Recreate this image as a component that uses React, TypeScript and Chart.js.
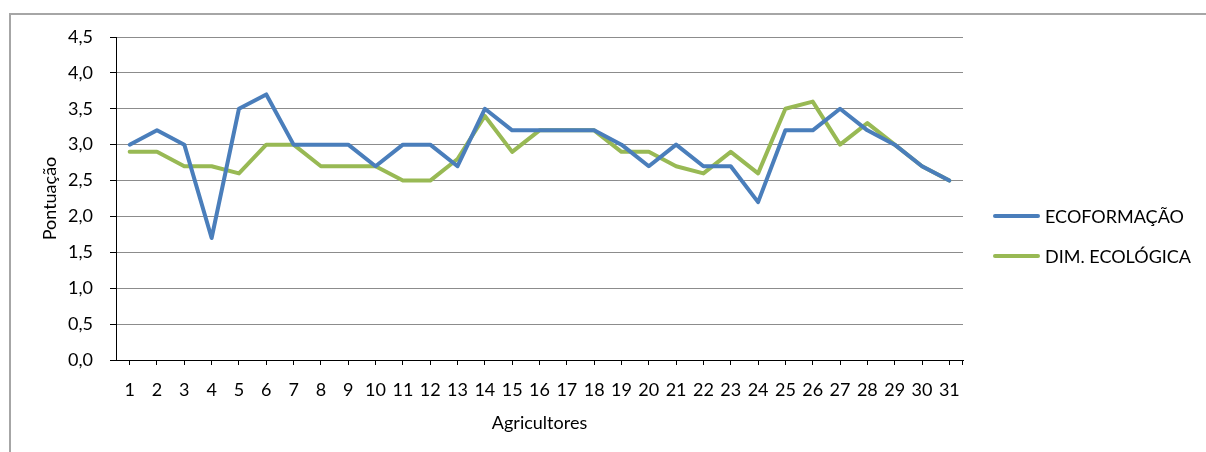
import React, { useEffect, useRef } from "react";
import { Chart, registerables } from "chart.js";

Chart.register(...registerables);

// Agricultores 1..31
const categories: string[] = Array.from({ length: 31 }, (_, i) => String(i + 1));

const ecoformacao: number[] = [
  3.0, 3.2, 3.0, 1.7, 3.5, 3.7, 3.0, 3.0, 3.0, 2.7,
  3.0, 3.0, 2.7, 3.5, 3.2, 3.2, 3.2, 3.2, 3.0, 2.7,
  3.0, 2.7, 2.7, 2.2, 3.2, 3.2, 3.5, 3.2, 3.0, 2.7,
  2.5,
];

const dimEcologica: number[] = [
  2.9, 2.9, 2.7, 2.7, 2.6, 3.0, 3.0, 2.7, 2.7, 2.7,
  2.5, 2.5, 2.8, 3.4, 2.9, 3.2, 3.2, 3.2, 2.9, 2.9,
  2.7, 2.6, 2.9, 2.6, 3.5, 3.6, 3.0, 3.3, 3.0, 2.7,
  2.5,
];

const seriesNames = ["ECOFORMAÇÃO", "DIM. ECOLÓGICA"];
const seriesColors = ["#4A7EBB", "#98B954"];

const FONT = "Lato, 'Noto Sans', sans-serif";

// Small tick at the right end of the category axis
const axisEndTick = {
  id: "axisEndTick",
  afterDraw(chart: Chart) {
    const { ctx, chartArea } = chart;
    ctx.save();
    ctx.strokeStyle = "#000";
    ctx.lineWidth = 1;
    ctx.beginPath();
    ctx.moveTo(Math.round(chartArea.right) - 0.5, chartArea.bottom);
    ctx.lineTo(Math.round(chartArea.right) - 0.5, chartArea.bottom + 5);
    ctx.stroke();
    ctx.restore();
  },
};

export default function App() {
  const canvasRef = useRef<HTMLCanvasElement | null>(null);

  useEffect(() => {
    if (!canvasRef.current) return;
    const chart = new Chart(canvasRef.current, {
      type: "line",
      data: {
        labels: categories,
        datasets: [
          {
            label: seriesNames[0],
            data: ecoformacao,
            borderColor: seriesColors[0],
            backgroundColor: seriesColors[0],
            borderWidth: 4,
            pointRadius: 0,
            tension: 0,
            borderJoinStyle: "round",
            borderCapStyle: "round",
          },
          {
            label: seriesNames[1],
            data: dimEcologica,
            borderColor: seriesColors[1],
            backgroundColor: seriesColors[1],
            borderWidth: 4,
            pointRadius: 0,
            tension: 0,
            borderJoinStyle: "round",
            borderCapStyle: "round",
          },
        ],
      },
      options: {
        animation: false,
        responsive: false,
        layout: { padding: { left: 0, top: 37, right: 243, bottom: 0 } },
        plugins: {
          legend: { display: false },
          tooltip: { enabled: false },
        },
        scales: {
          x: {
            type: "category",
            offset: true,
            grid: {
              display: true,
              offset: false,
              drawOnChartArea: false,
              drawTicks: true,
              tickLength: 5,
              tickColor: "#000",
            },
            border: { display: true, color: "#000", width: 1 },
            ticks: {
              color: "#000",
              font: { family: FONT, size: 18 },
              padding: 14,
              maxRotation: 0,
              autoSkip: false,
            },
            title: {
              display: true,
              text: "Agricultores",
              color: "#000",
              font: { family: FONT, size: 18 },
              padding: { top: 0, bottom: 18 },
            },
            afterFit(scale: any) {
              scale.height = 92;
            },
          },
          y: {
            min: 0,
            max: 4.5,
            grid: {
              color: "#8c8c8c",
              lineWidth: 1,
              tickLength: 6,
              tickColor: "#000",
            },
            border: { display: true, color: "#000", width: 1 },
            ticks: {
              stepSize: 0.5,
              color: "#000",
              font: { family: FONT, size: 18 },
              padding: 17,
              callback: (v: any) => Number(v).toFixed(1).replace(".", ","),
            },
            title: {
              display: true,
              text: "Pontuação",
              color: "#000",
              font: { family: FONT, size: 18 },
              padding: { top: 39, bottom: 0 },
            },
            afterFit(scale: any) {
              scale.width = 116;
            },
          },
        },
      },
      plugins: [axisEndTick],
    });
    return () => chart.destroy();
  }, []);

  return (
    <div
      style={{
        position: "fixed",
        left: 0,
        top: 0,
        width: 1206,
        height: 452,
        overflow: "hidden",
        background: "#fff",
      }}
    >
      <div
        style={{
          position: "absolute",
          left: 9,
          top: 13,
          width: 1300,
          height: 600,
          borderLeft: "2px solid #a6a6a6",
          borderTop: "2px solid #a6a6a6",
          boxSizing: "border-box",
        }}
      />
      <canvas
        ref={canvasRef}
        width={1206}
        height={452}
        style={{ position: "absolute", left: 0, top: 0, width: 1206, height: 452 }}
      />
      {seriesNames.map((name, i) => (
        <div
          key={name}
          style={{
            position: "absolute",
            left: 993,
            top: 216 + i * 40 - 12,
            height: 24,
            display: "flex",
            alignItems: "center",
            fontFamily: FONT,
            fontSize: 18,
            color: "#000",
            whiteSpace: "nowrap",
          }}
        >
          <span
            style={{
              display: "inline-block",
              width: 47,
              height: 4,
              borderRadius: 2,
              background: seriesColors[i],
              marginRight: 5,
            }}
          />
          <span>{name}</span>
        </div>
      ))}
    </div>
  );
}
